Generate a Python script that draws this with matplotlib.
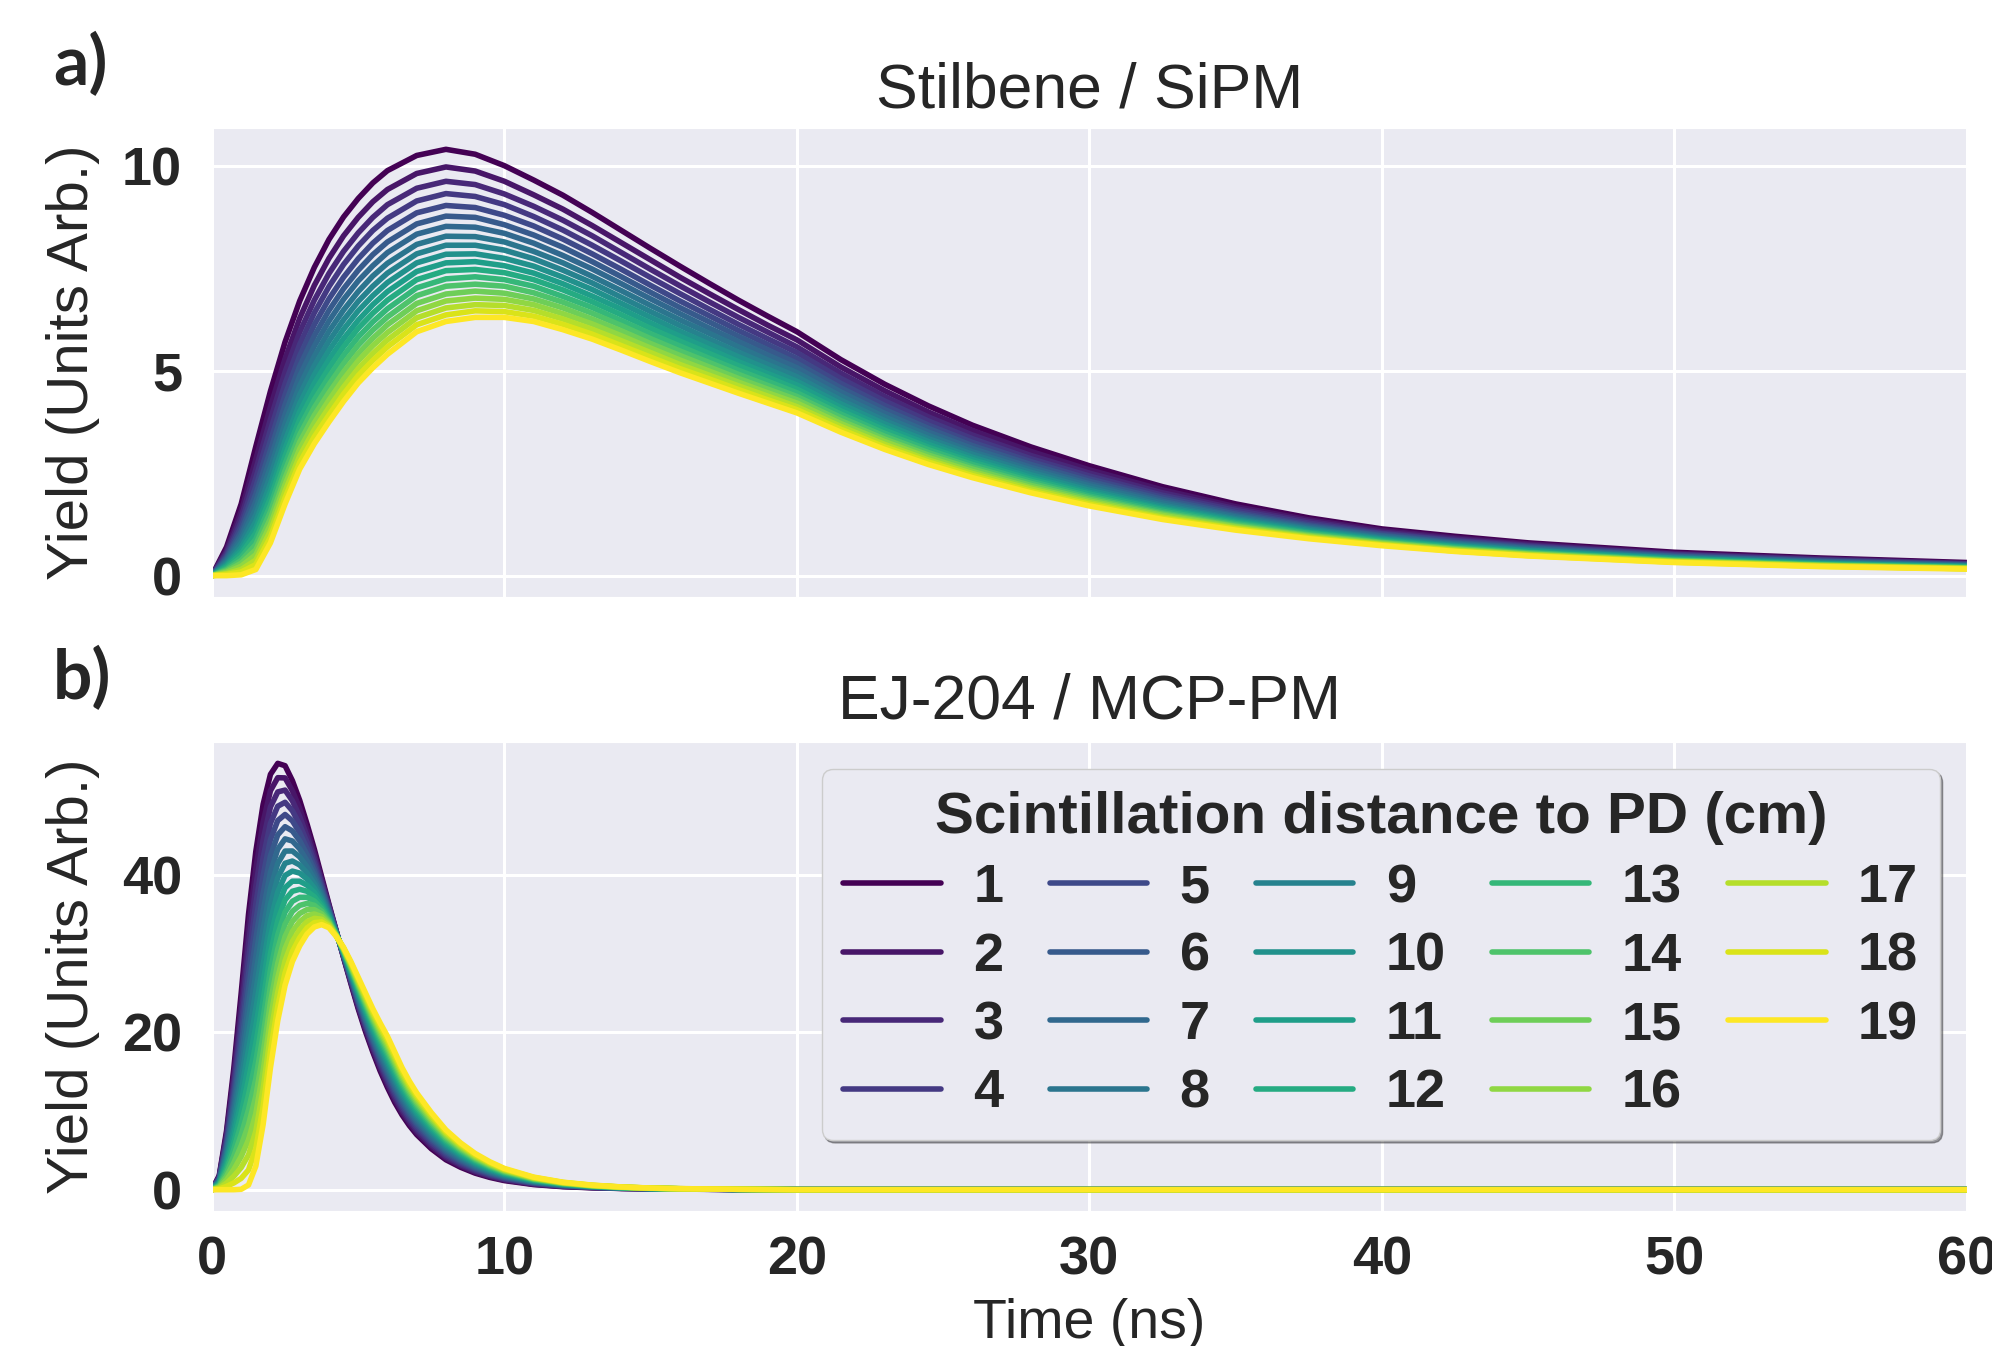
import numpy as np
import matplotlib
matplotlib.use("Agg")
import matplotlib.pyplot as plt
import seaborn as sns

# distances (cm) -> one curve each
distancias = list(range(1, 20))

# panel a) Stilbene / SiPM, tiempos (ns)
t_a = [0, 0.5, 1, 1.5, 2, 2.5, 3, 3.5, 4, 4.5, 5, 5.5, 6, 7, 8, 9, 10, 11, 12, 13,
       14, 15, 16, 17, 18, 19, 20, 21.5, 23, 24.5, 26, 28, 30, 32.5, 35, 37.5,
       40, 42.5, 45, 50, 55, 60]
yield_a = [
    [0, 0.70, 1.75, 3.15, 4.50, 5.70, 6.70, 7.52, 8.20, 8.75, 9.20, 9.58, 9.88, 10.25, 10.40, 10.28, 10.00, 9.65, 9.28, 8.86, 8.42, 7.98, 7.55, 7.13, 6.72, 6.33, 5.95, 5.27, 4.67, 4.14, 3.67, 3.14, 2.68, 2.17, 1.75, 1.41, 1.14, 0.96, 0.80, 0.57, 0.43, 0.32],
    [0, 0.63, 1.57, 2.84, 4.12, 5.29, 6.28, 7.08, 7.74, 8.29, 8.74, 9.12, 9.42, 9.81, 9.97, 9.87, 9.62, 9.29, 8.94, 8.54, 8.12, 7.70, 7.28, 6.88, 6.49, 6.11, 5.75, 5.09, 4.51, 3.99, 3.54, 3.03, 2.58, 2.09, 1.68, 1.36, 1.10, 0.92, 0.77, 0.54, 0.41, 0.30],
    [0, 0.57, 1.43, 2.59, 3.81, 4.97, 5.94, 6.72, 7.37, 7.91, 8.36, 8.74, 9.05, 9.45, 9.62, 9.54, 9.31, 9.01, 8.67, 8.29, 7.88, 7.47, 7.07, 6.68, 6.30, 5.94, 5.58, 4.94, 4.37, 3.87, 3.43, 2.93, 2.50, 2.02, 1.63, 1.32, 1.06, 0.89, 0.74, 0.52, 0.39, 0.29],
    [0, 0.52, 1.30, 2.38, 3.55, 4.68, 5.64, 6.41, 7.05, 7.59, 8.04, 8.42, 8.72, 9.14, 9.32, 9.25, 9.05, 8.76, 8.43, 8.06, 7.67, 7.27, 6.88, 6.50, 6.13, 5.78, 5.44, 4.81, 4.26, 3.77, 3.34, 2.85, 2.43, 1.96, 1.59, 1.28, 1.03, 0.86, 0.72, 0.51, 0.38, 0.28],
    [0, 0.47, 1.19, 2.17, 3.29, 4.41, 5.36, 6.12, 6.75, 7.28, 7.73, 8.11, 8.42, 8.85, 9.03, 8.98, 8.79, 8.53, 8.21, 7.85, 7.47, 7.08, 6.70, 6.34, 5.98, 5.64, 5.30, 4.69, 4.15, 3.67, 3.25, 2.78, 2.36, 1.91, 1.54, 1.24, 1.01, 0.84, 0.70, 0.49, 0.36, 0.27],
    [0, 0.43, 1.08, 1.99, 3.06, 4.17, 5.11, 5.85, 6.47, 7.00, 7.45, 7.83, 8.14, 8.58, 8.77, 8.74, 8.56, 8.31, 8.01, 7.66, 7.29, 6.91, 6.54, 6.19, 5.84, 5.51, 5.18, 4.58, 4.05, 3.59, 3.17, 2.71, 2.30, 1.86, 1.50, 1.21, 0.98, 0.81, 0.68, 0.47, 0.35, 0.26],
    [0, 0.39, 0.98, 1.81, 2.85, 3.93, 4.87, 5.60, 6.21, 6.74, 7.19, 7.56, 7.88, 8.33, 8.52, 8.50, 8.35, 8.11, 7.81, 7.48, 7.12, 6.75, 6.39, 6.04, 5.71, 5.38, 5.07, 4.48, 3.96, 3.50, 3.10, 2.64, 2.24, 1.81, 1.46, 1.18, 0.96, 0.79, 0.66, 0.46, 0.34, 0.25],
    [0, 0.35, 0.88, 1.64, 2.64, 3.71, 4.63, 5.35, 5.96, 6.48, 6.93, 7.31, 7.62, 8.08, 8.28, 8.27, 8.14, 7.91, 7.63, 7.30, 6.95, 6.59, 6.24, 5.91, 5.58, 5.26, 4.95, 4.38, 3.87, 3.42, 3.02, 2.58, 2.19, 1.77, 1.43, 1.15, 0.93, 0.77, 0.64, 0.44, 0.32, 0.24],
    [0, 0.31, 0.79, 1.48, 2.44, 3.50, 4.41, 5.12, 5.72, 6.24, 6.69, 7.06, 7.38, 7.85, 8.06, 8.06, 7.94, 7.73, 7.45, 7.14, 6.79, 6.44, 6.10, 5.77, 5.45, 5.15, 4.85, 4.28, 3.78, 3.34, 2.96, 2.52, 2.13, 1.72, 1.39, 1.13, 0.91, 0.75, 0.62, 0.43, 0.31, 0.23],
    [0, 0.27, 0.69, 1.32, 2.24, 3.29, 4.20, 4.90, 5.49, 6.01, 6.46, 6.83, 7.15, 7.63, 7.84, 7.85, 7.74, 7.55, 7.28, 6.98, 6.64, 6.30, 5.96, 5.65, 5.34, 5.04, 4.74, 4.19, 3.70, 3.27, 2.89, 2.46, 2.08, 1.68, 1.36, 1.10, 0.89, 0.73, 0.61, 0.42, 0.30, 0.22],
    [0, 0.24, 0.61, 1.17, 2.06, 3.10, 4.00, 4.69, 5.27, 5.78, 6.23, 6.61, 6.93, 7.42, 7.63, 7.66, 7.56, 7.38, 7.12, 6.82, 6.50, 6.16, 5.84, 5.53, 5.22, 4.93, 4.65, 4.10, 3.62, 3.20, 2.83, 2.40, 2.03, 1.64, 1.33, 1.07, 0.87, 0.71, 0.59, 0.41, 0.29, 0.22],
    [0, 0.21, 0.53, 1.04, 1.89, 2.92, 3.81, 4.49, 5.06, 5.58, 6.03, 6.40, 6.72, 7.22, 7.44, 7.47, 7.39, 7.22, 6.97, 6.68, 6.36, 6.03, 5.72, 5.42, 5.12, 4.84, 4.55, 4.02, 3.55, 3.13, 2.77, 2.35, 1.99, 1.61, 1.30, 1.05, 0.85, 0.70, 0.57, 0.39, 0.28, 0.21],
    [0, 0.17, 0.45, 0.89, 1.72, 2.73, 3.62, 4.29, 4.85, 5.37, 5.82, 6.19, 6.51, 7.02, 7.24, 7.29, 7.22, 7.06, 6.81, 6.54, 6.22, 5.90, 5.60, 5.30, 5.01, 4.74, 4.46, 3.94, 3.47, 3.07, 2.71, 2.30, 1.94, 1.57, 1.27, 1.03, 0.83, 0.68, 0.56, 0.38, 0.27, 0.20],
    [0, 0.14, 0.37, 0.76, 1.56, 2.56, 3.44, 4.10, 4.66, 5.17, 5.62, 5.99, 6.31, 6.83, 7.06, 7.11, 7.06, 6.90, 6.67, 6.40, 6.10, 5.78, 5.48, 5.20, 4.91, 4.64, 4.37, 3.86, 3.40, 3.00, 2.65, 2.25, 1.90, 1.53, 1.24, 1.00, 0.81, 0.66, 0.55, 0.37, 0.26, 0.19],
    [0, 0.11, 0.30, 0.63, 1.39, 2.38, 3.26, 3.91, 4.46, 4.97, 5.42, 5.79, 6.12, 6.64, 6.87, 6.94, 6.89, 6.75, 6.53, 6.26, 5.97, 5.66, 5.37, 5.09, 4.81, 4.55, 4.29, 3.78, 3.33, 2.94, 2.60, 2.20, 1.86, 1.50, 1.21, 0.98, 0.80, 0.65, 0.53, 0.36, 0.25, 0.19],
    [0, 0.08, 0.23, 0.51, 1.24, 2.22, 3.09, 3.73, 4.28, 4.79, 5.24, 5.61, 5.93, 6.46, 6.70, 6.77, 6.74, 6.61, 6.39, 6.14, 5.85, 5.55, 5.26, 4.99, 4.72, 4.46, 4.21, 3.71, 3.27, 2.88, 2.54, 2.15, 1.82, 1.47, 1.19, 0.96, 0.78, 0.63, 0.52, 0.35, 0.25, 0.18],
    [0, 0.05, 0.15, 0.38, 1.09, 2.06, 2.92, 3.56, 4.10, 4.60, 5.05, 5.42, 5.75, 6.29, 6.53, 6.61, 6.59, 6.47, 6.26, 6.01, 5.73, 5.44, 5.15, 4.89, 4.63, 4.38, 4.12, 3.64, 3.20, 2.82, 2.49, 2.11, 1.78, 1.43, 1.16, 0.94, 0.76, 0.62, 0.51, 0.34, 0.24, 0.17],
    [0, 0.03, 0.09, 0.27, 0.94, 1.90, 2.76, 3.39, 3.92, 4.43, 4.88, 5.25, 5.58, 6.12, 6.36, 6.46, 6.44, 6.33, 6.13, 5.89, 5.61, 5.33, 5.05, 4.80, 4.54, 4.29, 4.05, 3.57, 3.14, 2.77, 2.44, 2.06, 1.74, 1.40, 1.14, 0.92, 0.75, 0.60, 0.49, 0.33, 0.23, 0.17],
    [0, 0.00, 0.02, 0.15, 0.80, 1.75, 2.60, 3.22, 3.75, 4.25, 4.70, 5.07, 5.40, 5.95, 6.20, 6.30, 6.30, 6.20, 6.00, 5.77, 5.50, 5.22, 4.95, 4.70, 4.45, 4.21, 3.97, 3.50, 3.08, 2.71, 2.39, 2.02, 1.70, 1.37, 1.11, 0.90, 0.73, 0.59, 0.48, 0.32, 0.22, 0.16],
]

# panel b) EJ-204 / MCP-PM
t_b = [0, 0.25, 0.5, 0.75, 1, 1.25, 1.5, 1.75, 2, 2.25, 2.5, 2.75, 3, 3.25, 3.5,
       3.75, 4, 4.25, 4.5, 4.75, 5, 5.25, 5.5, 5.75, 6, 6.25, 6.5, 6.75, 7, 7.5,
       8, 8.5, 9, 9.5, 10, 11, 12, 13, 14, 15, 16, 18, 20, 60]
yield_b = [
    [0, 1.80, 7.50, 15.50, 25.00, 35.00, 43.00, 49.00, 52.80, 54.20, 53.90, 52.00, 49.50, 46.50, 43.30, 39.80, 36.30, 32.90, 29.50, 26.20, 23.00, 20.10, 17.50, 15.10, 13.00, 11.10, 9.50, 8.15, 7.00, 5.20, 3.80, 2.85, 2.10, 1.56, 1.15, 0.65, 0.38, 0.24, 0.15, 0.10, 0.07, 0.03, 0, 0],
    [0, 1.70, 7.08, 14.64, 23.61, 33.09, 40.78, 46.74, 50.73, 52.38, 52.35, 50.72, 48.47, 45.72, 42.75, 39.46, 36.13, 32.86, 29.57, 26.36, 23.22, 20.37, 17.81, 15.44, 13.36, 11.46, 9.83, 8.46, 7.29, 5.46, 4.01, 3.02, 2.24, 1.67, 1.24, 0.70, 0.41, 0.26, 0.16, 0.11, 0.07, 0.03, 0, 0],
    [0, 1.60, 6.67, 13.78, 22.23, 31.18, 38.56, 44.48, 48.66, 50.57, 50.80, 49.44, 47.44, 44.94, 42.20, 39.12, 35.97, 32.82, 29.64, 26.51, 23.44, 20.64, 18.11, 15.78, 13.72, 11.81, 10.17, 8.78, 7.59, 5.71, 4.22, 3.19, 2.38, 1.78, 1.32, 0.76, 0.44, 0.28, 0.17, 0.11, 0.08, 0.03, 0, 0],
    [0, 1.50, 6.25, 12.92, 20.84, 29.27, 36.33, 42.22, 46.58, 48.75, 49.25, 48.17, 46.42, 44.17, 41.65, 38.78, 35.80, 32.78, 29.72, 26.67, 23.67, 20.92, 18.42, 16.12, 14.08, 12.17, 10.50, 9.09, 7.88, 5.97, 4.43, 3.37, 2.52, 1.89, 1.41, 0.81, 0.48, 0.30, 0.18, 0.12, 0.08, 0.03, 0, 0],
    [0, 1.40, 5.83, 12.06, 19.46, 27.36, 34.11, 39.96, 44.51, 46.93, 47.70, 46.89, 45.39, 43.39, 41.10, 38.44, 35.63, 32.74, 29.79, 26.82, 23.89, 21.19, 18.72, 16.46, 14.44, 12.52, 10.83, 9.41, 8.18, 6.22, 4.64, 3.54, 2.66, 2.00, 1.49, 0.86, 0.51, 0.32, 0.19, 0.12, 0.08, 0.03, 0, 0],
    [0, 1.30, 5.42, 11.19, 18.07, 25.44, 31.89, 37.69, 42.44, 45.12, 46.15, 45.61, 44.36, 42.61, 40.55, 38.11, 35.47, 32.71, 29.86, 26.98, 24.11, 21.46, 19.03, 16.79, 14.81, 12.88, 11.17, 9.72, 8.47, 6.48, 4.86, 3.71, 2.79, 2.11, 1.58, 0.91, 0.54, 0.33, 0.21, 0.13, 0.09, 0.04, 0, 0],
    [0, 1.20, 5.00, 10.33, 16.68, 23.53, 29.67, 35.43, 40.37, 43.30, 44.60, 44.33, 43.33, 41.83, 40.00, 37.77, 35.30, 32.67, 29.93, 27.13, 24.33, 21.73, 19.33, 17.13, 15.17, 13.23, 11.50, 10.03, 8.77, 6.73, 5.07, 3.88, 2.93, 2.22, 1.67, 0.97, 0.57, 0.35, 0.22, 0.14, 0.09, 0.04, 0, 0],
    [0, 1.10, 4.58, 9.47, 15.30, 21.62, 27.44, 33.17, 38.29, 41.48, 43.05, 43.06, 42.31, 41.06, 39.45, 37.43, 35.13, 32.63, 30.01, 27.29, 24.56, 22.01, 19.64, 17.47, 15.53, 13.59, 11.83, 10.35, 9.06, 6.99, 5.28, 4.06, 3.07, 2.33, 1.75, 1.02, 0.60, 0.37, 0.23, 0.14, 0.09, 0.04, 0, 0],
    [0, 1.00, 4.17, 8.61, 13.91, 19.71, 25.22, 30.91, 36.22, 39.67, 41.50, 41.78, 41.28, 40.28, 38.90, 37.09, 34.97, 32.59, 30.08, 27.44, 24.78, 22.28, 19.94, 17.81, 15.89, 13.94, 12.17, 10.66, 9.36, 7.24, 5.49, 4.23, 3.21, 2.44, 1.84, 1.07, 0.63, 0.39, 0.24, 0.15, 0.10, 0.04, 0, 0],
    [0, 0.90, 3.75, 7.75, 12.53, 17.80, 23.00, 28.65, 34.15, 37.85, 39.95, 40.50, 40.25, 39.50, 38.35, 36.75, 34.80, 32.55, 30.15, 27.60, 25.00, 22.55, 20.25, 18.15, 16.25, 14.30, 12.50, 10.98, 9.65, 7.50, 5.70, 4.40, 3.35, 2.56, 1.93, 1.13, 0.67, 0.41, 0.25, 0.16, 0.10, 0.04, 0, 0],
    [0, 0.80, 3.33, 6.89, 11.14, 15.89, 20.78, 26.39, 32.08, 36.03, 38.40, 39.22, 39.22, 38.72, 37.80, 36.41, 34.63, 32.51, 30.22, 27.76, 25.22, 22.82, 20.56, 18.49, 16.61, 14.66, 12.83, 11.29, 9.94, 7.76, 5.91, 4.57, 3.49, 2.67, 2.01, 1.18, 0.70, 0.43, 0.26, 0.16, 0.10, 0.04, 0, 0],
    [0, 0.70, 2.92, 6.03, 9.75, 13.98, 18.56, 24.13, 30.01, 34.22, 36.85, 37.94, 38.19, 37.94, 37.25, 36.07, 34.47, 32.47, 30.29, 27.91, 25.44, 23.09, 20.86, 18.83, 16.97, 15.01, 13.17, 11.60, 10.24, 8.01, 6.12, 4.74, 3.63, 2.78, 2.10, 1.23, 0.73, 0.45, 0.27, 0.17, 0.11, 0.04, 0, 0],
    [0, 0.60, 2.50, 5.17, 8.37, 12.07, 16.33, 21.87, 27.93, 32.40, 35.30, 36.67, 37.17, 37.17, 36.70, 35.73, 34.30, 32.43, 30.37, 28.07, 25.67, 23.37, 21.17, 19.17, 17.33, 15.37, 13.50, 11.92, 10.53, 8.27, 6.33, 4.92, 3.77, 2.89, 2.18, 1.28, 0.76, 0.47, 0.28, 0.17, 0.11, 0.04, 0, 0],
    [0, 0.50, 2.08, 4.31, 6.98, 10.16, 14.11, 19.61, 25.86, 30.58, 33.75, 35.39, 36.14, 36.39, 36.15, 35.39, 34.13, 32.39, 30.44, 28.22, 25.89, 23.64, 21.47, 19.51, 17.69, 15.72, 13.83, 12.23, 10.83, 8.52, 6.54, 5.09, 3.91, 3.00, 2.27, 1.34, 0.79, 0.49, 0.29, 0.18, 0.11, 0.04, 0, 0],
    [0, 0.40, 1.67, 3.44, 5.59, 8.24, 11.89, 17.34, 23.79, 28.77, 32.20, 34.11, 35.11, 35.61, 35.60, 35.06, 33.97, 32.36, 30.51, 28.38, 26.11, 23.91, 21.78, 19.84, 18.06, 16.08, 14.17, 12.54, 11.12, 8.78, 6.76, 5.26, 4.04, 3.11, 2.36, 1.39, 0.82, 0.50, 0.31, 0.19, 0.12, 0.05, 0, 0],
    [0, 0.30, 1.25, 2.58, 4.21, 6.33, 9.67, 15.08, 21.72, 26.95, 30.65, 32.83, 34.08, 34.83, 35.05, 34.72, 33.80, 32.32, 30.58, 28.53, 26.33, 24.18, 22.08, 20.18, 18.42, 16.43, 14.50, 12.86, 11.42, 9.03, 6.97, 5.43, 4.18, 3.22, 2.44, 1.44, 0.86, 0.52, 0.32, 0.19, 0.12, 0.05, 0, 0],
    [0, 0.20, 0.83, 1.72, 2.82, 4.42, 7.44, 12.82, 19.64, 25.13, 29.10, 31.56, 33.06, 34.06, 34.50, 34.38, 33.63, 32.28, 30.66, 28.69, 26.56, 24.46, 22.39, 20.52, 18.78, 16.79, 14.83, 13.17, 11.71, 9.29, 7.18, 5.61, 4.32, 3.33, 2.53, 1.49, 0.89, 0.54, 0.33, 0.20, 0.12, 0.05, 0, 0],
    [0, 0.10, 0.42, 0.86, 1.44, 2.51, 5.22, 10.56, 17.57, 23.32, 27.55, 30.28, 32.03, 33.28, 33.95, 34.04, 33.47, 32.24, 30.73, 28.84, 26.78, 24.73, 22.69, 20.86, 19.14, 17.14, 15.17, 13.49, 12.01, 9.54, 7.39, 5.78, 4.46, 3.44, 2.61, 1.55, 0.92, 0.56, 0.34, 0.20, 0.13, 0.05, 0, 0],
    [0, 0.00, 0.00, 0.00, 0.05, 0.60, 3.00, 8.30, 15.50, 21.50, 26.00, 29.00, 31.00, 32.50, 33.40, 33.70, 33.30, 32.20, 30.80, 29.00, 27.00, 25.00, 23.00, 21.20, 19.50, 17.50, 15.50, 13.80, 12.30, 9.80, 7.60, 5.95, 4.60, 3.55, 2.70, 1.60, 0.95, 0.58, 0.35, 0.21, 0.13, 0.05, 0, 0],
]

xticks = [0, 10, 20, 30, 40, 50, 60]
yticks_a = [0, 5, 10]
yticks_b = [0, 20, 40]

sns.set_style("darkgrid")
plt.rcParams['font.family'] = ['Liberation Sans', 'DejaVu Sans']

fig = plt.figure(figsize=(19.92, 13.46), dpi=100)
ax_a = fig.add_axes([0.1064, 0.5565, 0.8810, 0.3484])
ax_b = fig.add_axes([0.1064, 0.1003, 0.8810, 0.3484])

colores = plt.cm.viridis(np.linspace(0, 1, len(distancias)))

for i, d in enumerate(distancias):
    ax_a.plot(t_a, yield_a[i], color=colores[i], lw=4)
    ax_b.plot(t_b, yield_b[i], color=colores[i], lw=4, label=str(d))

txt = '#262626'
for ax, yt, titulo, pad in [(ax_a, yticks_a, 'Stilbene / SiPM', 15),
                            (ax_b, yticks_b, 'EJ-204 / MCP-PM', 17)]:
    ax.set_xlim(0, 60)
    ax.set_xticks(xticks)
    ax.set_xticklabels([str(v) for v in xticks], fontweight='bold', fontsize=39)
    ax.set_yticks(yt)
    ax.set_yticklabels([str(v) for v in yt], fontweight='bold', fontsize=39)
    ax.tick_params(axis='y', pad=18, colors=txt)
    ax.tick_params(axis='x', pad=14, colors=txt)
    ax.grid(color='white', lw=2.2)
    ax.set_title(titulo, fontsize=45, color=txt, pad=pad)
    ax.set_ylabel('Yield (Units Arb.)', fontsize=42, labelpad=16, color=txt)

ax_a.tick_params(labelbottom=False)
ax_b.set_xlabel('Time (ns)', fontsize=40, labelpad=9, color=txt)

leg = ax_b.legend(title='Scintillation distance to PD (cm)', ncol=5,
                  loc='upper right', shadow=True, frameon=True,
                  prop={'weight': 'bold', 'size': 39},
                  title_fontproperties={'weight': 'bold', 'size': 42},
                  handlelength=1.8, handletextpad=0.6, columnspacing=0.85,
                  labelspacing=0.34, borderpad=0.4)
for t in leg.get_texts():
    t.set_color(txt)
leg.get_title().set_color(txt)

# etiquetas de panel
fig.text(0.0266, 0.9368, 'a)', fontsize=50, fontweight='bold', family='Lato')
fig.text(0.0266, 0.4807, 'b)', fontsize=50, fontweight='bold', family='Lato')

fig.savefig('out.png', dpi=100)
